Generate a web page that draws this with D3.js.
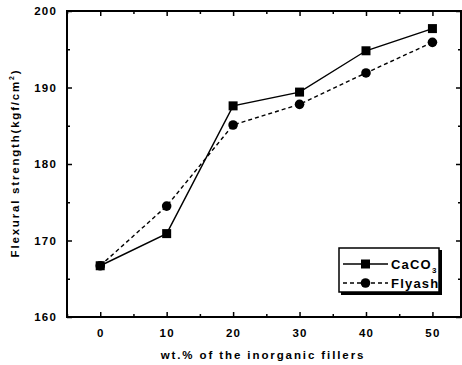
<!DOCTYPE html>
<html>
<head>
<meta charset="utf-8">
<script src="https://cdn.jsdelivr.net/npm/d3@7"></script>
<style>
  body { margin: 0; background: #fff; }
  text { font-family: "Liberation Sans", Arial, sans-serif; font-weight: bold; fill: #000; }
  .domain { stroke: none; }
</style>
</head>
<body>
<div id="chart"></div>
<script>
// data
var fillerWt = [0, 10, 20, 30, 40, 50];
var caco3 = [166.7, 170.9, 187.6, 189.4, 194.8, 197.7];
var flyash = [166.7, 174.5, 185.1, 187.8, 191.9, 195.9];
var xTicks = [0, 10, 20, 30, 40, 50];
var yTicks = [160, 170, 180, 190, 200];

var svgWidth = 462;
var svgHeight = 365;
var margin = { top: 11, right: 1, bottom: 48, left: 67 };
var width = svgWidth - margin.left - margin.right;
var height = svgHeight - margin.top - margin.bottom;

var svg = d3.select("#chart")
  .append("svg")
  .attr("width", svgWidth)
  .attr("height", svgHeight);

var chartGroup = svg.append("g")
  .attr("transform", `translate(${margin.left}, ${margin.top})`);

var x = d3.scaleLinear().domain([-5, 54.3]).range([0, width]);
var y = d3.scaleLinear().domain([160, 200]).range([height, 0]);

var minorX = d3.range(-5, 55, 5).filter(d => d % 10 !== 0);
var minorY = d3.range(165, 200, 10);

// axes with ticks pointing inward
function styleAxis(g) {
  g.selectAll(".tick line").attr("stroke", "#000").attr("stroke-width", 1.5);
  g.selectAll(".tick text").attr("font-size", 11.5).attr("letter-spacing", 1.2);
}

chartGroup.append("g")
  .attr("transform", `translate(0, ${height})`)
  .call(d3.axisBottom(x).tickValues(xTicks).tickSizeInner(-5).tickSizeOuter(0).tickPadding(12))
  .call(styleAxis);
chartGroup.append("g")
  .attr("transform", `translate(0, ${height})`)
  .call(d3.axisBottom(x).tickValues(minorX).tickSizeInner(-3).tickSizeOuter(0).tickFormat(""))
  .call(styleAxis);
chartGroup.append("g")
  .call(d3.axisTop(x).tickValues(xTicks).tickSizeInner(-5).tickSizeOuter(0).tickFormat(""))
  .call(styleAxis);
chartGroup.append("g")
  .call(d3.axisTop(x).tickValues(minorX).tickSizeInner(-3).tickSizeOuter(0).tickFormat(""))
  .call(styleAxis);

chartGroup.append("g")
  .call(d3.axisLeft(y).tickValues(yTicks).tickSizeInner(-5).tickSizeOuter(0).tickPadding(10))
  .call(styleAxis);
chartGroup.append("g")
  .call(d3.axisLeft(y).tickValues(minorY).tickSizeInner(-3).tickSizeOuter(0).tickFormat(""))
  .call(styleAxis);
chartGroup.append("g")
  .attr("transform", `translate(${width}, 0)`)
  .call(d3.axisRight(y).tickValues(yTicks).tickSizeInner(-5).tickSizeOuter(0).tickFormat(""))
  .call(styleAxis);
chartGroup.append("g")
  .attr("transform", `translate(${width}, 0)`)
  .call(d3.axisRight(y).tickValues(minorY).tickSizeInner(-3).tickSizeOuter(0).tickFormat(""))
  .call(styleAxis);

// frame
chartGroup.append("rect")
  .attr("width", width)
  .attr("height", height)
  .attr("fill", "none")
  .attr("stroke", "#000")
  .attr("stroke-width", 2);

// series
var line = d3.line()
  .x((d, i) => x(fillerWt[i]))
  .y(d => y(d));

chartGroup.append("path")
  .datum(flyash)
  .attr("d", line)
  .attr("fill", "none")
  .attr("stroke", "#000")
  .attr("stroke-width", 1.4)
  .attr("stroke-dasharray", "4,3");

chartGroup.append("path")
  .datum(caco3)
  .attr("d", line)
  .attr("fill", "none")
  .attr("stroke", "#000")
  .attr("stroke-width", 1.4);

chartGroup.selectAll(".sq")
  .data(caco3)
  .enter()
  .append("rect")
  .attr("x", (d, i) => x(fillerWt[i]) - 4.5)
  .attr("y", d => y(d) - 4.5)
  .attr("width", 9)
  .attr("height", 9)
  .attr("fill", "#000");

chartGroup.selectAll(".dot")
  .data(flyash)
  .enter()
  .append("circle")
  .attr("cx", (d, i) => x(fillerWt[i]))
  .attr("cy", d => y(d))
  .attr("r", 4.8)
  .attr("fill", "#000");

// legend
var lg = svg.append("g").attr("transform", "translate(339, 248)");
lg.append("rect")
  .attr("x", 2).attr("y", 2)
  .attr("width", 101).attr("height", 45)
  .attr("fill", "#000");
lg.append("rect")
  .attr("width", 100).attr("height", 44)
  .attr("fill", "#fff")
  .attr("stroke", "#000")
  .attr("stroke-width", 1.5);

lg.append("line")
  .attr("x1", 4).attr("x2", 49).attr("y1", 16).attr("y2", 16)
  .attr("stroke", "#000").attr("stroke-width", 1.4);
lg.append("rect")
  .attr("x", 22).attr("y", 11.5).attr("width", 9).attr("height", 9)
  .attr("fill", "#000");
var t1 = lg.append("text").attr("x", 52).attr("y", 21).attr("font-size", 13).attr("letter-spacing", 1.2);
t1.append("tspan").text("CaCO");
t1.append("tspan").attr("font-size", 8).attr("dy", 4).text("3");

lg.append("line")
  .attr("x1", 4).attr("x2", 49).attr("y1", 35).attr("y2", 35)
  .attr("stroke", "#000").attr("stroke-width", 1.4)
  .attr("stroke-dasharray", "4,3");
lg.append("circle")
  .attr("cx", 26.5).attr("cy", 35).attr("r", 4.8)
  .attr("fill", "#000");
lg.append("text").attr("x", 52).attr("y", 40).attr("font-size", 13).attr("letter-spacing", 1.2).text("Flyash");

// axis titles
svg.append("text")
  .attr("x", 263)
  .attr("y", 359)
  .attr("text-anchor", "middle")
  .attr("font-size", 11.5)
  .attr("letter-spacing", 1.9)
  .text("wt.% of the inorganic fillers");

var yt = svg.append("text")
  .attr("transform", "translate(19, 163) rotate(-90)")
  .attr("text-anchor", "middle")
  .attr("font-size", 11.5)
  .attr("letter-spacing", 1.8);
yt.append("tspan").text("Flexural strength(kgf/cm");
yt.append("tspan").attr("font-size", 7).attr("dy", -5).text("2");
yt.append("tspan").attr("dy", 5).text(")");
</script>
</body>
</html>
